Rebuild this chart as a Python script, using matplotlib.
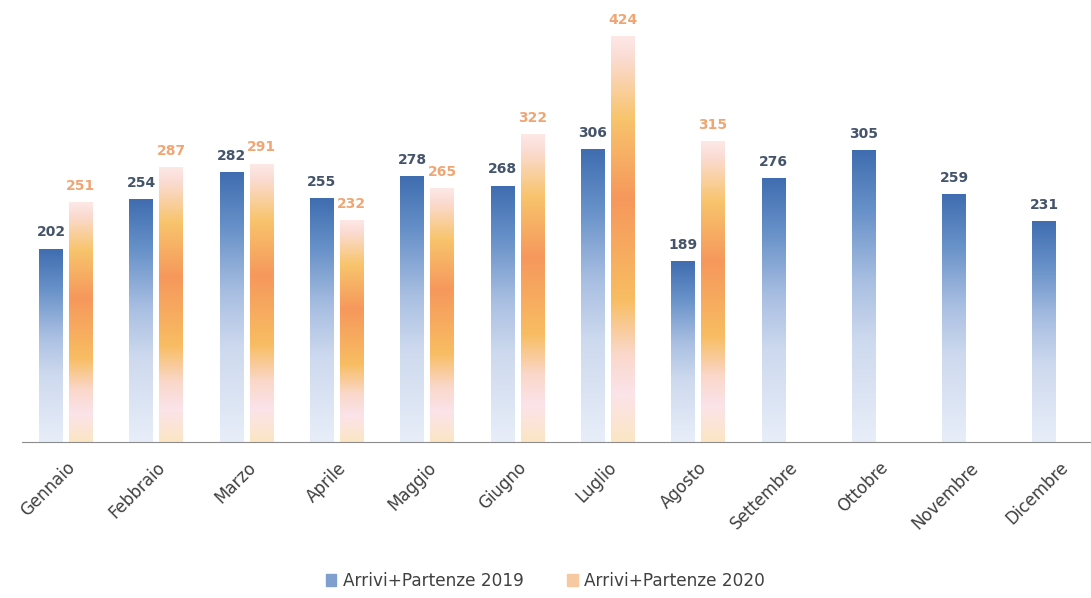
import numpy as np
import matplotlib.pyplot as plt
from matplotlib.colors import LinearSegmentedColormap

months = ["Gennaio", "Febbraio", "Marzo", "Aprile", "Maggio", "Giugno",
          "Luglio", "Agosto", "Settembre", "Ottobre", "Novembre", "Dicembre"]
vals_2019 = [202, 254, 282, 255, 278, 268, 306, 189, 276, 305, 259, 231]
vals_2020 = [251, 287, 291, 232, 265, 322, 424, 315]
labels = ["Arrivi+Partenze 2019", "Arrivi+Partenze 2020"]

# gradients, listed from bottom (0) to top (1)
blue_cm = LinearSegmentedColormap.from_list(
    "blu", [(0.0, "#e8eef9"), (0.35, "#cdd9ee"), (0.55, "#a9bfe2"),
            (0.8, "#6690c8"), (1.0, "#3f6db0")])
orange_cm = LinearSegmentedColormap.from_list(
    "ora", [(0.0, "#fbe6c4"), (0.12, "#fbe3ea"), (0.22, "#fad7c8"),
            (0.35, "#f8bd62"), (0.6, "#f6985c"), (0.8, "#f8c46c"),
            (0.95, "#fbdcd4"), (1.0, "#fde8e6")])

fig = plt.figure(figsize=(10.91, 5.98), dpi=100)
ax = fig.add_axes([22 / 1091, 1 - 442 / 598, 1069 / 1091, 405 / 598 * 460 / 424])

x = np.arange(len(months))
w = 0.265
off = 0.166
b1 = ax.bar(x - off, vals_2019, w, color="none", label=labels[0])
b2 = ax.bar(x[:len(vals_2020)] + off, vals_2020, w, color="none", label=labels[1])

grad = np.linspace(0, 1, 256).reshape(-1, 1)
for bars, cm in ((b1, blue_cm), (b2, orange_cm)):
    for p in bars:
        x0, y0 = p.get_x(), p.get_y()
        ax.imshow(grad, cmap=cm, origin="lower", aspect="auto",
                  extent=[x0, x0 + p.get_width(), y0, y0 + p.get_height()],
                  zorder=2)

for xi, v in zip(x, vals_2019):
    ax.text(xi - off, v + 10, str(v), ha="center", va="bottom",
            fontsize=10, fontweight="bold", color="#44546a")
for xi, v in zip(x, vals_2020):
    ax.text(xi + off, v + 10, str(v), ha="center", va="bottom",
            fontsize=10, fontweight="bold", color="#f0a673")

ax.set_xlim(-0.487, 11.35)
ax.set_ylim(0, 460)
ax.set_yticks([])
for s in ("top", "right", "left"):
    ax.spines[s].set_visible(False)
ax.spines["bottom"].set_color("#8c8c8c")
ax.set_xticks(x)
ax.set_xticklabels(months, rotation=45, ha="right", rotation_mode="anchor",
                   fontsize=12, color="#404040")
ax.tick_params(axis="x", length=0, pad=12)

h1 = plt.Rectangle((0, 0), 1, 1, color="#7f9fcf")
h2 = plt.Rectangle((0, 0), 1, 1, color="#f6c9a0")
fig.legend([h1, h2], labels, loc="lower center", bbox_to_anchor=(0.5, -0.012),
           ncol=2, frameon=False, fontsize=12.2, handlelength=0.6,
           handleheight=0.7, columnspacing=2.6, handletextpad=0.4,
           labelcolor="#404040")

fig.savefig("out.png", dpi=100)
